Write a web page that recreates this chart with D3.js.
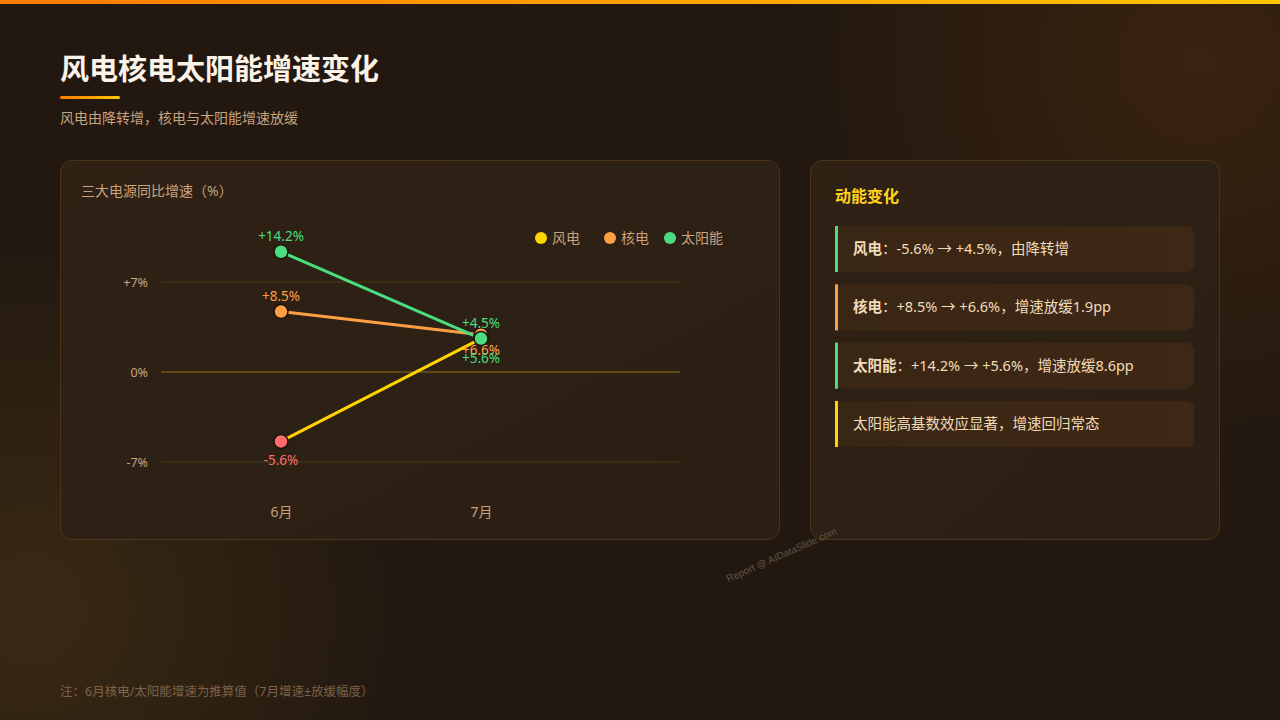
<!DOCTYPE html>
<html>
<head>
<meta charset="utf-8">
<script src="https://cdn.jsdelivr.net/npm/d3@7/dist/d3.min.js"></script>
<style>
  html, body { margin: 0; padding: 0; background: #221810; }
  svg { display: block; font-family: "Noto Sans", "Noto Sans CJK SC", sans-serif; }
</style>
</head>
<body>
<svg id="slide" width="1280" height="720"></svg>
<script>
// ---- data ----
const months = ['6月', '7月'];
const seriesNames = ['风电', '核电', '太阳能'];
// growth rates shown in the labels (%)
const windRate = [-5.6, 4.5];
const nuclearRate = [8.5, 6.6];
const solarRate = [14.2, 5.6];
// vertical positions as drawn in the picture, in axis units
const windPlot = [-5.4, 2.6];
const nuclearPlot = [4.7, 2.9];
const solarPlot = [9.35, 2.6];
const yTicks = [-7, 0, 7];
const tickLabels = ['-7%', '0%', '+7%'];
const notes = [
  { head: '风电', body: '：-5.6% → +4.5%，由降转增', color: '#4ade80' },
  { head: '核电', body: '：+8.5% → +6.6%，增速放缓1.9pp', color: '#ff9f43' },
  { head: '太阳能', body: '：+14.2% → +5.6%，增速放缓8.6pp', color: '#4ade80' },
  { head: '', body: '太阳能高基数效应显著，增速回归常态', color: '#ffd400' }
];

const svg = d3.select('#slide');
const defs = svg.append('defs');

// background glows
const glow1 = defs.append('radialGradient').attr('id', 'glow1')
  .attr('cx', 1200).attr('cy', 60).attr('r', 400).attr('gradientUnits', 'userSpaceOnUse');
glow1.append('stop').attr('offset', 0).attr('stop-color', '#3a230f');
glow1.append('stop').attr('offset', 1).attr('stop-color', '#3a230f').attr('stop-opacity', 0);
const glow2 = defs.append('radialGradient').attr('id', 'glow2')
  .attr('cx', 30).attr('cy', 610).attr('r', 380).attr('gradientUnits', 'userSpaceOnUse');
glow2.append('stop').attr('offset', 0).attr('stop-color', '#3a2a14');
glow2.append('stop').attr('offset', 1).attr('stop-color', '#3a2a14').attr('stop-opacity', 0);

const bar = defs.append('linearGradient').attr('id', 'bar');
bar.append('stop').attr('offset', 0).attr('stop-color', '#ff7a00');
bar.append('stop').attr('offset', 1).attr('stop-color', '#ffc700');

const cardFill = defs.append('linearGradient').attr('id', 'card')
  .attr('x1', 0).attr('y1', 0).attr('x2', 1).attr('y2', 1);
cardFill.append('stop').attr('offset', 0).attr('stop-color', '#2f2114');
cardFill.append('stop').attr('offset', 1).attr('stop-color', '#2b1f14');

const noteFill = defs.append('linearGradient').attr('id', 'note')
  .attr('x1', 0).attr('y1', 0).attr('x2', 1).attr('y2', 0);
noteFill.append('stop').attr('offset', 0).attr('stop-color', '#3a2614');
noteFill.append('stop').attr('offset', 1).attr('stop-color', '#3d2815');

svg.append('rect').attr('width', 1280).attr('height', 720).attr('fill', '#221810');
svg.append('rect').attr('width', 1280).attr('height', 720).attr('fill', 'url(#glow1)');
svg.append('rect').attr('width', 1280).attr('height', 720).attr('fill', 'url(#glow2)');
svg.append('rect').attr('width', 1280).attr('height', 4).attr('fill', 'url(#bar)');

// heading
svg.append('text').attr('x', 60).attr('y', 80)
  .attr('fill', '#fbf3e8').style('font-size', '29px').style('font-weight', 700)
  .text('风电核电太阳能增速变化');
svg.append('rect').attr('x', 60).attr('y', 96).attr('width', 60).attr('height', 3)
  .attr('rx', 1.5).attr('fill', 'url(#bar)');
svg.append('text').attr('x', 60).attr('y', 123)
  .attr('fill', '#c9a27e').style('font-size', '14px')
  .text('风电由降转增，核电与太阳能增速放缓');

// cards
svg.append('rect').attr('x', 60.5).attr('y', 160.5).attr('width', 719).attr('height', 379)
  .attr('rx', 12).attr('fill', 'url(#card)').attr('stroke', '#4d3419');
svg.append('rect').attr('x', 810.5).attr('y', 160.5).attr('width', 409).attr('height', 379)
  .attr('rx', 12).attr('fill', 'url(#card)').attr('stroke', '#4d3419');

// ---- line chart ----
svg.append('text').attr('x', 81).attr('y', 196)
  .attr('fill', '#c9a27e').style('font-size', '14px')
  .text('三大电源同比增速（%）');

const plotLeft = 161, plotRight = 680;
const x = d3.scalePoint().domain(months).range([plotLeft + 120, plotLeft + 320]);
const y = d3.scaleLinear().domain([-7, 7]).range([462, 282]);

const grid = svg.append('g');
grid.selectAll('line').data(yTicks).join('line')
  .attr('x1', plotLeft).attr('x2', plotRight)
  .attr('y1', d => y(d)).attr('y2', d => y(d))
  .attr('stroke', d => d === 0 ? '#6e5812' : '#4a3a14')
  .attr('stroke-width', d => d === 0 ? 1.5 : 1);

const yAxis = svg.append('g').attr('transform', `translate(${plotLeft - 10},0)`)
  .call(d3.axisLeft(y).tickValues(yTicks).tickSize(0).tickFormat((d, i) => tickLabels[i]));
yAxis.select('.domain').remove();
yAxis.selectAll('text').attr('fill', '#c9a27e').style('font-size', '12.5px')
  .style('font-family', '"Noto Sans", "Noto Sans CJK SC", sans-serif');

const xAxis = svg.append('g').attr('transform', 'translate(0,504)')
  .call(d3.axisBottom(x).tickSize(0));
xAxis.select('.domain').remove();
xAxis.selectAll('text').attr('fill', '#c9a27e').style('font-size', '14px')
  .style('font-family', '"Noto Sans", "Noto Sans CJK SC", sans-serif');

const series = [
  { name: '风电', plot: windPlot, rate: windRate, line: '#ffd400', color: null },
  { name: '核电', plot: nuclearPlot, rate: nuclearRate, line: '#ff9f43', color: '#ff9f43' },
  { name: '太阳能', plot: solarPlot, rate: solarRate, line: '#4ade80', color: '#4ade80' }
];
const posColor = '#4ade80', negColor = '#ff6b6b';
const fmt = v => (v > 0 ? '+' : '') + v.toFixed(1) + '%';

const line = d3.line().x((d, i) => x(months[i])).y(d => y(d));
series.forEach(s => {
  svg.append('path').datum(s.plot)
    .attr('fill', 'none').attr('stroke', s.line).attr('stroke-width', 3)
    .attr('d', line);
});
series.forEach(s => {
  s.plot.forEach((v, i) => {
    const c = s.color || (s.rate[i] < 0 ? negColor : posColor);
    svg.append('circle')
      .attr('cx', x(months[i])).attr('cy', y(v)).attr('r', 7)
      .attr('fill', c).attr('stroke', '#1e140b').attr('stroke-width', 1.5);
  });
});
// value labels: above the point, except negatives and the crowded July orange/green
series.forEach(s => {
  s.plot.forEach((v, i) => {
    const c = s.color || (s.rate[i] < 0 ? negColor : posColor);
    let dy = s.rate[i] < 0 ? 24 : -11;
    if (i === 1 && s.name === '太阳能') dy = 24;
    if (i === 1 && s.name === '核电') dy = 20;
    svg.append('text')
      .attr('x', x(months[i])).attr('y', y(v) + dy)
      .attr('text-anchor', 'middle').attr('fill', c).style('font-size', '13.5px')
      .text(fmt(s.rate[i]));
  });
});

// legend
const legend = svg.append('g').attr('transform', 'translate(541,238)');
const legendX = [0, 69, 129];
seriesNames.forEach((n, i) => {
  const g = legend.append('g').attr('transform', `translate(${legendX[i]},0)`);
  g.append('circle').attr('r', 6).attr('fill', series[i].line);
  g.append('text').attr('x', 11).attr('dy', '0.35em')
    .attr('fill', '#c9a27e').style('font-size', '14px').text(n);
});

// ---- notes card ----
svg.append('text').attr('x', 835).attr('y', 202)
  .attr('fill', '#ffd21a').style('font-size', '16px').style('font-weight', 700)
  .text('动能变化');
const rowY = d3.scaleBand().domain(d3.range(notes.length)).range([226, 447]).paddingInner(0.21);
const rows = svg.append('g').selectAll('g').data(notes).join('g')
  .attr('transform', (d, i) => `translate(835,${rowY(i)})`);
rows.append('rect').attr('width', 359).attr('height', rowY.bandwidth()).attr('rx', 8).attr('fill', 'url(#note)');
rows.append('rect').attr('width', 3).attr('height', rowY.bandwidth()).attr('fill', d => d.color);
const rowText = rows.append('text').attr('x', 18).attr('y', 28)
  .attr('fill', '#f2dcb8').style('font-size', '14.5px');
rowText.append('tspan').style('font-weight', 700).text(d => d.head);
rowText.append('tspan').text(d => d.body);

// watermark
svg.append('text')
  .attr('transform', 'translate(783,558) rotate(-24)')
  .attr('text-anchor', 'middle').attr('fill', '#8a7a6a').attr('opacity', 0.6)
  .style('font-size', '10px').style('font-family', '"Liberation Sans", sans-serif')
  .text('Report @ AIDataSlide.com');

// footnote
svg.append('text').attr('x', 60).attr('y', 696)
  .attr('fill', '#7d6248').style('font-size', '12.5px')
  .text('注：6月核电/太阳能增速为推算值（7月增速±放缓幅度）');
</script>
</body>
</html>
